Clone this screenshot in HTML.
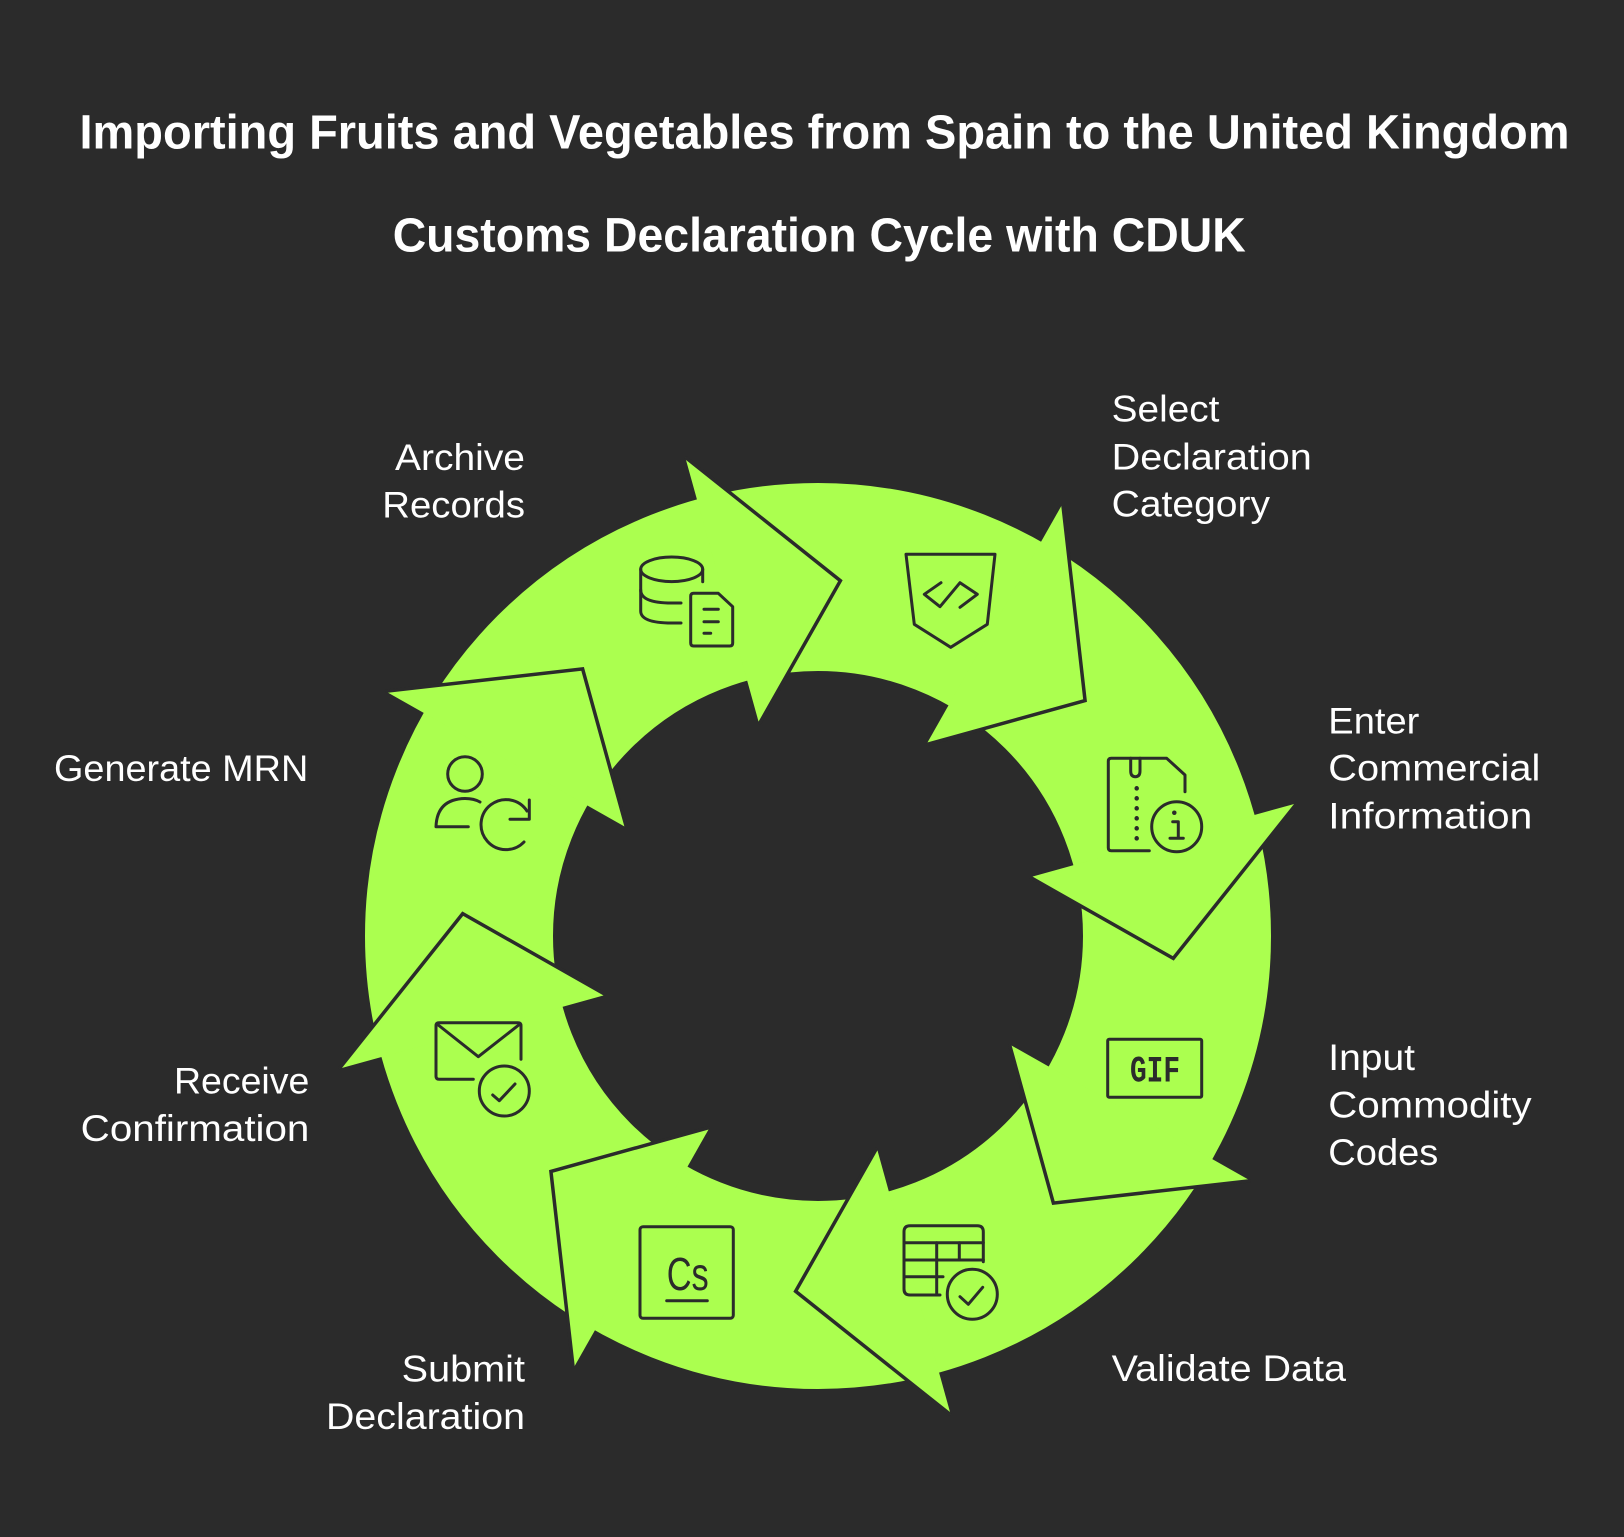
<!DOCTYPE html>
<html>
<head>
<meta charset="utf-8">
<style>
  html,body{margin:0;padding:0;background:#2b2b2b;}
  body{width:1624px;height:1537px;overflow:hidden;}
  svg{display:block;}
  .t{font-family:"Liberation Sans",Arial,sans-serif;fill:#ffffff;}
  .ic{fill:none;stroke:#2b2b2b;stroke-width:3;stroke-linecap:round;stroke-linejoin:round;}
</style>
</head>
<body>
<svg width="1624" height="1537" viewBox="0 0 1624 1537" xmlns="http://www.w3.org/2000/svg">
  <rect x="0" y="0" width="1624" height="1537" fill="#2b2b2b"/>

  <!-- Titles -->
  <text class="t" x="79.5" y="148.5" font-size="48" font-weight="bold" textLength="1490" lengthAdjust="spacingAndGlyphs">Importing Fruits and Vegetables from Spain to the United Kingdom</text>
  <text class="t" x="392.7" y="251.7" font-size="48" font-weight="bold" textLength="853" lengthAdjust="spacingAndGlyphs">Customs Declaration Cycle with CDUK</text>

  <!-- Ring -->
  <circle cx="818" cy="936" r="359" fill="none" stroke="#abff4f" stroke-width="188"/>

  <!-- Arrow heads -->
  <g fill="#abff4f" stroke="#2b2b2b" stroke-width="3.5" stroke-linejoin="miter">
    <path d="M685.2,457.1 L840.4,580.7 L759.2,724" transform="rotate(0 818 936)"/>
    <path d="M685.2,457.1 L840.4,580.7 L759.2,724" transform="rotate(45 818 936)"/>
    <path d="M685.2,457.1 L840.4,580.7 L759.2,724" transform="rotate(90 818 936)"/>
    <path d="M685.2,457.1 L840.4,580.7 L759.2,724" transform="rotate(135 818 936)"/>
    <path d="M685.2,457.1 L840.4,580.7 L759.2,724" transform="rotate(180 818 936)"/>
    <path d="M685.2,457.1 L840.4,580.7 L759.2,724" transform="rotate(225 818 936)"/>
    <path d="M685.2,457.1 L840.4,580.7 L759.2,724" transform="rotate(270 818 936)"/>
    <path d="M685.2,457.1 L840.4,580.7 L759.2,724" transform="rotate(315 818 936)"/>
  </g>

  <!-- Icon: Archive (database + document) -->
  <g class="ic">
    <ellipse cx="671.7" cy="569.3" rx="31" ry="12.3"/>
    <path d="M640.7,569.3 L640.7,611 Q640.7,623 671.7,623 L681,623"/>
    <path d="M640.7,590 Q640.7,603 671.7,603 L681,603"/>
    <path d="M702.7,569.3 L702.7,581.7"/>
    <path d="M693.5,593.3 L718.3,593.3 L732.7,606.7 L732.7,643 Q732.7,646 729.7,646 L693.7,646 Q690.7,646 690.7,643 L690.7,596.3 Q690.7,593.3 693.7,593.3 Z"/>
    <path d="M704,609.3 L718.3,609.3 M704,621.7 L718.3,621.7 M704,633.3 L710.7,633.3"/>
  </g>

  <!-- Icon: Select (shield with code) -->
  <g class="ic">
    <path d="M906,554.3 L995,554.3 L987.3,624.3 L950.7,647.3 L914.3,624.3 Z"/>
    <path d="M941,582.7 L924.3,594.3 L940,606.7 L960,582.7 L977.3,594.3 L960,607.3"/>
  </g>

  <!-- Icon: Enter commercial info (zip file + info) -->
  <g class="ic">
    <path d="M1185,791.7 L1185,775 L1166.7,758.3 L1111.3,758.3 Q1108.3,758.3 1108.3,761.3 L1108.3,847.7 Q1108.3,850.7 1111.3,850.7 L1149.3,850.7"/>
    <path d="M1130.7,758.3 L1130.7,771 Q1130.7,776.7 1135.3,776.7 Q1140,776.7 1140,771 L1140,758.3"/>
    <g stroke-width="4.5">
      <path d="M1136.7,788.3 L1136.7,788.4 M1136.7,798.3 L1136.7,798.4 M1136.7,808.3 L1136.7,808.4 M1136.7,818.3 L1136.7,818.4 M1136.7,828.3 L1136.7,828.4 M1136.7,838.3 L1136.7,838.4"/>
    </g>
    <circle cx="1176.7" cy="826.7" r="25"/>
    <path d="M1174.3,812.7 L1174.3,812.8" stroke-width="4.5"/>
    <path d="M1172.7,821.7 L1178.3,821.7 L1178.3,838.3 M1170,838.3 L1183.3,838.3"/>
  </g>

  <!-- Icon: GIF -->
  <g>
    <rect class="ic" x="1107.7" y="1039.3" width="94" height="58" rx="1.5"/>
    <text x="1130" y="1081.7" font-family="'Liberation Mono','DejaVu Sans Mono',monospace" font-size="37" font-weight="bold" fill="#2b2b2b" textLength="50" lengthAdjust="spacingAndGlyphs">GIF</text>
  </g>

  <!-- Icon: Validate (table + check) -->
  <g class="ic">
    <path d="M983.3,1261.7 L983.3,1231.7 Q983.3,1225.7 977.3,1225.7 L910,1225.7 Q904,1225.7 904,1231.7 L904,1289 Q904,1295 910,1295 L940,1295"/>
    <path d="M904,1242.7 L983.3,1242.7 M904,1260 L983.3,1260 M904,1276.7 L943,1276.7"/>
    <path d="M936.7,1242.7 L936.7,1295 M959.3,1242.7 L959.3,1260"/>
    <circle cx="972.3" cy="1294.3" r="25"/>
    <path d="M960,1296.7 L968.3,1304.3 L982.7,1287.3"/>
  </g>

  <!-- Icon: Submit (Cs) -->
  <g>
    <rect class="ic" x="640" y="1226.7" width="93.3" height="91.6" rx="3"/>
    <text x="666.7" y="1290" font-family="'Liberation Sans',Arial,sans-serif" font-size="46" fill="#2b2b2b" textLength="42" lengthAdjust="spacingAndGlyphs">Cs</text>
    <path class="ic" d="M666.7,1300.7 L707.3,1300.7" stroke-width="3.5"/>
  </g>

  <!-- Icon: Receive (envelope + check) -->
  <g class="ic">
    <path d="M521,1059.3 L521,1025.7 Q521,1022.7 518,1022.7 L439,1022.7 Q436,1022.7 436,1025.7 L436,1076.3 Q436,1079.3 439,1079.3 L473.3,1079.3"/>
    <path d="M437,1024 L478.3,1056.7 L520,1024"/>
    <circle cx="504.3" cy="1091" r="25"/>
    <path d="M492.7,1095 L499.3,1100.7 L515,1084"/>
  </g>

  <!-- Icon: Generate MRN (person + refresh) -->
  <g class="ic">
    <circle cx="465" cy="774" r="17.3"/>
    <path d="M468.3,826.7 L436,826.7 Q437,799 465,798.5 Q474,798.5 480,802"/>
    <path d="M524,842 A25,25 0 1 1 527,811"/>
    <path d="M529.3,800 L529.3,819.3 L510,819.3"/>
  </g>

  <!-- Labels -->
  <g class="t" font-size="37">
    <text x="1111.7" y="421.7" textLength="107.7" lengthAdjust="spacingAndGlyphs">Select</text>
    <text x="1111.7" y="469.3" textLength="200" lengthAdjust="spacingAndGlyphs">Declaration</text>
    <text x="1111.7" y="516.7" textLength="158.3" lengthAdjust="spacingAndGlyphs">Category</text>

    <text x="1328.3" y="733.3" textLength="91" lengthAdjust="spacingAndGlyphs">Enter</text>
    <text x="1328.3" y="780.5" textLength="212" lengthAdjust="spacingAndGlyphs">Commercial</text>
    <text x="1328.3" y="828.3" textLength="204" lengthAdjust="spacingAndGlyphs">Information</text>

    <text x="1328.3" y="1070" textLength="86.7" lengthAdjust="spacingAndGlyphs">Input</text>
    <text x="1328.3" y="1117.3" textLength="203.3" lengthAdjust="spacingAndGlyphs">Commodity</text>
    <text x="1328.3" y="1165" textLength="110" lengthAdjust="spacingAndGlyphs">Codes</text>

    <text x="1111.7" y="1381" textLength="234.3" lengthAdjust="spacingAndGlyphs">Validate Data</text>

    <text x="401.7" y="1381.7" textLength="123.3" lengthAdjust="spacingAndGlyphs">Submit</text>
    <text x="326" y="1429" textLength="199" lengthAdjust="spacingAndGlyphs">Declaration</text>

    <text x="174" y="1093.3" textLength="135.3" lengthAdjust="spacingAndGlyphs">Receive</text>
    <text x="80.7" y="1141" textLength="228.7" lengthAdjust="spacingAndGlyphs">Confirmation</text>

    <text x="54" y="781" textLength="254.3" lengthAdjust="spacingAndGlyphs">Generate MRN</text>

    <text x="395" y="470" textLength="130" lengthAdjust="spacingAndGlyphs">Archive</text>
    <text x="382.3" y="517.3" textLength="142.7" lengthAdjust="spacingAndGlyphs">Records</text>
  </g>
</svg>
</body>
</html>
